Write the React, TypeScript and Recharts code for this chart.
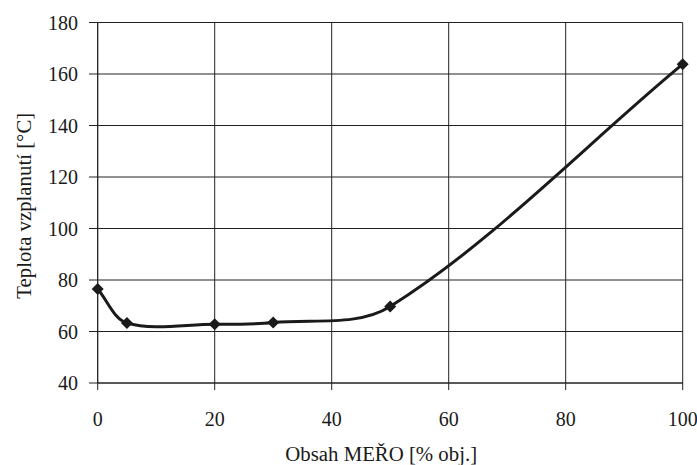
import React from 'react';
import { LineChart, Line, XAxis, YAxis, CartesianGrid } from 'recharts';

const meroContent = [0, 5, 20, 30, 50, 100];
const flashPoint = [76.5, 63.3, 62.8, 63.5, 69.7, 163.8];
const xTicks = [0, 20, 40, 60, 80, 100];
const yTicks = [40, 60, 80, 100, 120, 140, 160, 180];

const data = meroContent.map((x, i) => ({ x, y: flashPoint[i] }));

const FONT = 'Liberation Serif';
const INK = '#1a1a1a';

// Excel-like smoothed line: chord-weighted Catmull-Rom converted to cubic Bezier
function smoothCurve(context: any) {
  let pts: [number, number][] = [];
  const dist = (a: [number, number], b: [number, number]) => Math.hypot(b[0] - a[0], b[1] - a[1]);
  return {
    areaStart() {},
    areaEnd() {},
    lineStart() {
      pts = [];
    },
    point(x: number, y: number) {
      pts.push([+x, +y]);
    },
    lineEnd() {
      const n = pts.length;
      if (!n) return;
      context.moveTo(pts[0][0], pts[0][1]);
      for (let i = 0; i < n - 1; i++) {
        const p0 = pts[Math.max(i - 1, 0)];
        const p1 = pts[i];
        const p2 = pts[i + 1];
        const p3 = pts[Math.min(i + 2, n - 1)];
        const d01 = dist(p0, p1);
        const d12 = dist(p1, p2);
        const d23 = dist(p2, p3);
        const w1 = d12 / (d01 + d12 || 1) / 3;
        const w2 = d12 / (d12 + d23 || 1) / 3;
        const c1x = p1[0] + (p2[0] - p0[0]) * w1;
        const c1y = p1[1] + (p2[1] - p0[1]) * w1;
        const c2x = p2[0] - (p3[0] - p1[0]) * w2;
        const c2y = p2[1] - (p3[1] - p1[1]) * w2;
        context.bezierCurveTo(c1x, c1y, c2x, c2y, p2[0], p2[1]);
      }
    },
  };
}

const Diamond = (props: any) => {
  const { cx, cy, index } = props;
  if (cx == null || cy == null) return <g key={`d-${index}`} />;
  const h = 6;
  return (
    <path
      key={`d-${index}`}
      d={`M${cx},${cy - h}L${cx + h},${cy}L${cx},${cy + h}L${cx - h},${cy}Z`}
      fill={INK}
      stroke="none"
    />
  );
};

export default function App() {
  return (
    <div style={{ position: 'absolute', left: 0, top: 0, width: 697, height: 465, background: '#fff', fontFamily: FONT }}>
      <LineChart
        width={697}
        height={465}
        data={data}
        margin={{ top: 22.5, right: 14.3, bottom: 0, left: 0 }}
        style={{ fontFamily: FONT }}
      >
        <CartesianGrid stroke="#222" strokeWidth={1} horizontal vertical />
        <XAxis
          dataKey="x"
          type="number"
          domain={[0, 100]}
          ticks={xTicks}
          interval={0}
          height={82}
          tickSize={7}
          tickMargin={22}
          axisLine={{ stroke: '#222', strokeWidth: 1 }}
          tickLine={{ stroke: '#222', strokeWidth: 1 }}
          tick={{ fill: INK, fontSize: 20, fontFamily: FONT }}
          label={{
            content: (p: any) => {
              const vb = p.viewBox || { x: 97.7, y: 383, width: 585, height: 82 };
              return (
                <text
                  x={vb.x + vb.width / 2 - 9}
                  y={vb.y + 78}
                  textAnchor="middle"
                  fill={INK}
                  fontSize={20.8}
                  style={{ fontFamily: FONT }}
                >
                  Obsah MEŘO [% obj.]
                </text>
              );
            },
          }}
        />
        <YAxis
          dataKey="y"
          type="number"
          domain={[40, 180]}
          ticks={yTicks}
          interval={0}
          width={97.7}
          tickSize={8.7}
          tickMargin={11}
          axisLine={{ stroke: '#222', strokeWidth: 1 }}
          tickLine={{ stroke: '#222', strokeWidth: 1 }}
          tick={{ fill: INK, fontSize: 20, fontFamily: FONT }}
          label={{
            content: (p: any) => {
              const vb = p.viewBox || { x: 0, y: 22.5, width: 97.7, height: 360.5 };
              const cx = 23;
              const cy = vb.y + vb.height / 2 + 3;
              return (
                <text
                  x={cx}
                  y={cy}
                  textAnchor="middle"
                  dominantBaseline="central"
                  transform={`rotate(-90, ${cx}, ${cy})`}
                  fill={INK}
                  fontSize={20.8}
                  style={{ fontFamily: FONT }}
                >
                  Teplota vzplanutí [°C]
                </text>
              );
            },
          }}
        />
        <Line
          dataKey="y"
          type={smoothCurve as any}
          stroke={INK}
          strokeWidth={3}
          dot={Diamond}
          activeDot={false}
          isAnimationActive={false}
        />
      </LineChart>
    </div>
  );
}
